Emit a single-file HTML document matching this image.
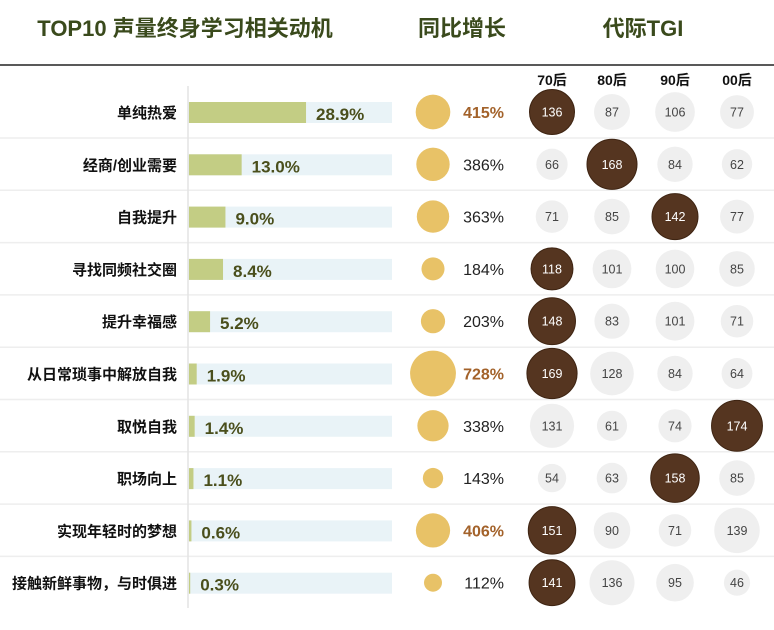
<!DOCTYPE html>
<html><head><meta charset="utf-8">
<style>
body{margin:0;background:#fff;width:774px;height:630px;overflow:hidden}
svg{display:block;font-family:"Liberation Sans","Noto Sans CJK SC",sans-serif}
</style></head>
<body>
<svg id="chart" width="774" height="630" viewBox="0 0 774 630">
<text x="185" y="36" text-anchor="middle" font-size="22" font-weight="bold" fill="#3a4a1c">TOP10 声量终身学习相关动机</text>
<text x="462" y="36" text-anchor="middle" font-size="22" font-weight="bold" fill="#3a4a1c">同比增长</text>
<text x="643" y="36" text-anchor="middle" font-size="22" font-weight="bold" fill="#3a4a1c">代际TGI</text>
<line x1="0" y1="65" x2="774" y2="65" stroke="#222" stroke-width="1.5"/>
<g id="rows"></g>
<line x1="188" y1="86" x2="188" y2="608" stroke="#e3e3e3" stroke-width="1.5"/>
</svg>
<script>
const categories=["单纯热爱","经商/创业需要","自我提升","寻找同频社交圈","提升幸福感","从日常琐事中解放自我","取悦自我","职场向上","实现年轻时的梦想","接触新鲜事物，与时俱进"];
const shares=[28.9,13.0,9.0,8.4,5.2,1.9,1.4,1.1,0.6,0.3];
const growth=[415,386,363,184,203,728,338,143,406,112];
const growthHighlight=[true,false,false,false,false,true,false,false,true,false];
const generations=["70后","80后","90后","00后"];
const tgi70=[136,66,71,118,148,169,131,54,151,141];
const tgi80=[87,168,85,101,83,128,61,63,90,136];
const tgi90=[106,84,142,100,101,84,74,158,71,95];
const tgi00=[77,62,77,85,71,64,174,85,139,46];
const tgiSeries=[tgi70,tgi80,tgi90,tgi00];

const NS="http://www.w3.org/2000/svg";
const svg=document.getElementById('chart');
const g=document.getElementById('rows');
function mk(tag,attrs,parent,text){const e=document.createElementNS(NS,tag);for(const k in attrs)e.setAttribute(k,attrs[k]);if(text!==undefined)e.textContent=text;(parent||g).appendChild(e);return e;}
const rowY=i=>112+i*52.3;
const barX=v=>189+v*4.05;
const growthR=v=>Math.sqrt(v)*0.85;
const tgiR=v=>Math.sqrt(v)*1.93;
const colX=[552,612,675,737];

generations.forEach((gen,j)=>{
  const t=mk('text',{x:colX[j],y:85,'text-anchor':'middle','font-size':14,'font-weight':'bold',fill:'#111'},svg,gen);
  
  
});

categories.forEach((c,i)=>{
  const y=rowY(i);
  if(i<categories.length-1){
    const sep=mk('line',{x1:0,x2:774,y1:y+26,y2:y+26,stroke:'#eeeeee','stroke-width':1.5});
    
    
  }
  const lab=mk('text',{x:177,y:y+6,'text-anchor':'end','font-size':15,'font-weight':'bold',fill:'#111'},g,c);
  
  
  const bg=mk('rect',{x:188,y:y-10,width:204,height:21,fill:'#e9f3f7'});
  
  
  const b=mk('rect',{x:189,y:y-10,width:barX(shares[i])-189,height:21,fill:'#c3cd84'});
  
  
  const bt=mk('text',{x:barX(shares[i])+10,y:y+8,'font-size':17,'font-weight':'bold',fill:'#4a4f1c'},g,shares[i].toFixed(1)+'%');
  
  
  const gc=mk('circle',{cx:433,cy:y,r:growthR(growth[i]),fill:'#e8c267'});
  
  
  const hl=growthHighlight[i];
  const gt=mk('text',{x:504,y:y+6,'text-anchor':'end','font-size':16,'font-weight':hl?'bold':'normal',fill:hl?'#a3622a':'#222'},g,growth[i]+'%');
  
  
  const vals=tgiSeries.map(s=>s[i]);
  const mx=Math.max(...vals);
  vals.forEach((v,j)=>{
    const top=v===mx;
    const tc=mk('circle',{cx:colX[j],cy:y,r:tgiR(v),fill:top?'#553520':'#efefef',stroke:top?'#3e2412':'none'});
    
    
    const tt=mk('text',{x:colX[j],y:y+4.5,'text-anchor':'middle','font-size':12.5,fill:top?'#fff':'#444'},g,v);
    
    
  });
});
</script>
</body></html>
